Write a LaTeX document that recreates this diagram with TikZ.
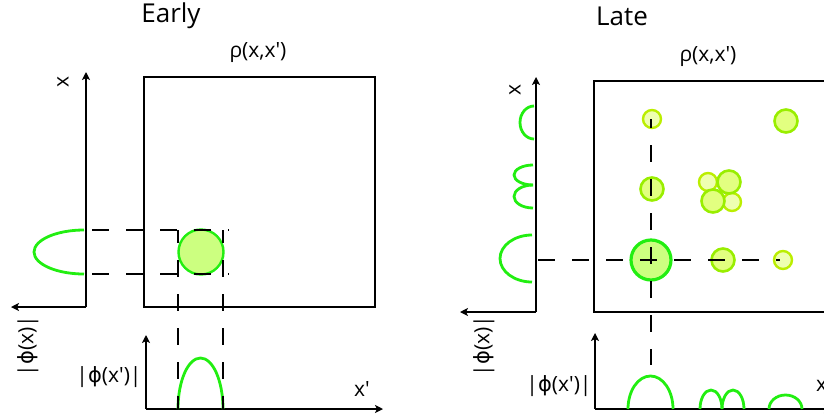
\documentclass[tikz,border=0pt]{standalone}
\usepackage{fontspec}
\setmainfont{Open Sans}
\newfontfamily\phifont{DejaVu Sans}
\usetikzlibrary{arrows.meta}
\definecolor{wfgreen}   {HTML}{22EE11}
\definecolor{wffill}    {HTML}{CCFF80}
\definecolor{midline}   {HTML}{99EE00}
\definecolor{midfill}   {HTML}{E2FF80}
\definecolor{faintline} {HTML}{BBEE00}
\definecolor{faintfill} {HTML}{EEFFB0}
\newcommand{\wphi}{{\phifont ϕ}}

\begin{document}
\begin{tikzpicture}[
  x=1pt, y=-1pt,
  every node/.style={font=\fontsize{21}{24}\selectfont, inner sep=0pt},
  title/.style={font=\fontsize{26}{30}\selectfont},
  frame/.style={line width=1.2pt},
  axis/.style={line width=1.2pt, -{Stealth[length=8pt,width=8pt,inset=2pt]}},
  guide/.style={line width=1.2pt, dash pattern=on 17pt off 17pt},
  wave/.style={line width=2.8pt, draw=wfgreen},
  spot/.style={circle, inner sep=0pt},
  bigspot/.style={spot, draw=wfgreen, fill=wffill, line width=3.2pt},
  midspot/.style={spot, draw=midline, fill=midfill, line width=2.6pt},
  faintspot/.style={spot, draw=faintline, fill=faintfill, line width=2.4pt},
]
\useasboundingbox (0,0) rectangle (824,418);
\clip (0,0) rectangle (824,418);

% ---------------- Early ----------------
\node[title] (early) at (171,16) {Early};
\node (rhoE) at (258,53) {ρ(x,x′)};
\draw[frame] (144,77) rectangle (375,307);

% axes
\coordinate (oE)  at (86,307);
\coordinate (xE)  at (86,72);
\coordinate (pE)  at (11,307);
\coordinate (obE) at (146,409);
\coordinate (qE)  at (146,335);
\coordinate (xpE) at (383,409);
\draw[axis] (oE) -- (xE);
\draw[axis] (oE) -- (pE);
\draw[axis] (obE) -- (qE);
\draw[axis] (obE) -- (xpE);
\node[rotate=90] (xlabE) at (63,82) {x};
\node[rotate=90] (phixE) at (28,346) {|\wphi(x)|};
\node (phipE) at (109,377) {|\wphi(x′)|};
\node (xplabE) at (362,389) {x′};

% wave functions
\draw[wave] (84,230) arc[start angle=90, end angle=270, x radius=50pt, y radius=22pt];
\draw[wave] (178,409) arc[start angle=180, end angle=0, x radius=22.5pt, y radius=51pt];

% density
\node[bigspot, line width=2.4pt, minimum size=45pt] (spotE) at (201,252) {};

% guides
\draw[guide] (92,230) -- (229,230);
\draw[guide] (92,274) -- (229,274);
\draw[guide, dash phase=-30pt] (178,230) -- (178,409);
\draw[guide, dash phase=-30pt] (223,230) -- (223,409);

% ---------------- Late ----------------
\node[title] (late) at (622,16) {Late};
\node (rhoL) at (708,57) {ρ(x,x′)};
\draw[frame] (594,81) rectangle (827,312);

% axes
\coordinate (oL)  at (536,312);
\coordinate (xL)  at (536,77);
\coordinate (pL)  at (460,312);
\coordinate (obL) at (595,409);
\coordinate (qL)  at (595,333);
\coordinate (xpL) at (832,409);
\draw[axis] (oL) -- (xL);
\draw[axis] (oL) -- (pL);
\draw[axis] (obL) -- (qL);
\draw[axis] (obL) -- (xpL);
\node[rotate=90] (xlabL) at (515,90) {x};
\node[rotate=90] (phixL) at (484,346) {|\wphi(x)|};
\node (phipL) at (559,386) {|\wphi(x′)|};
\node (xplabL) at (824,384) {x′};

% wave functions
\draw[wave] (534,106) arc[start angle=90, end angle=270, x radius=14pt, y radius=16.5pt];
\draw[wave] (533,165) arc[start angle=90, end angle=270, x radius=19pt, y radius=10pt];
\draw[wave] (533,185) arc[start angle=90, end angle=270, x radius=19pt, y radius=11.5pt];
\draw[wave] (532,235) arc[start angle=90, end angle=270, x radius=32pt, y radius=23.5pt];
\draw[wave] (628,409) arc[start angle=180, end angle=0, x radius=22.5pt, y radius=33pt];
\draw[wave] (700,409) arc[start angle=180, end angle=0, x radius=11pt, y radius=19pt];
\draw[wave] (722,409) arc[start angle=180, end angle=0, x radius=11pt, y radius=19pt];
\draw[wave] (769,409) arc[start angle=180, end angle=0, x radius=16.5pt, y radius=14pt];

% density
\node[bigspot, minimum size=40pt]   (s11) at (651,260) {};
\node[midspot, minimum size=23pt]   (s21) at (723,260) {};
\node[faintspot, minimum size=18pt] (s31) at (783,260) {};
\node[midspot, minimum size=23pt]   (s12) at (652,189) {};
\node[faintspot, minimum size=18pt] (s13) at (652,119) {};
\node[midspot, minimum size=23pt]   (s33) at (786,121) {};
\node[faintspot, minimum size=18pt] (c1)  at (708,182) {};
\node[faintspot, minimum size=18pt] (c4)  at (732,202) {};
\node[midspot, minimum size=23pt]   (c2)  at (729,182) {};
\node[midspot, minimum size=23pt]   (c3)  at (713,201) {};

% guides
\coordinate (hL)  at (538,260);
\coordinate (hR)  at (780,260);
\coordinate (vT)  at (651,119);
\coordinate (vB)  at (651,365);
\draw[guide] (hL) -- (hR);
\draw[guide, dash phase=8pt] (vT) -- (vB);
\end{tikzpicture}
\end{document}
